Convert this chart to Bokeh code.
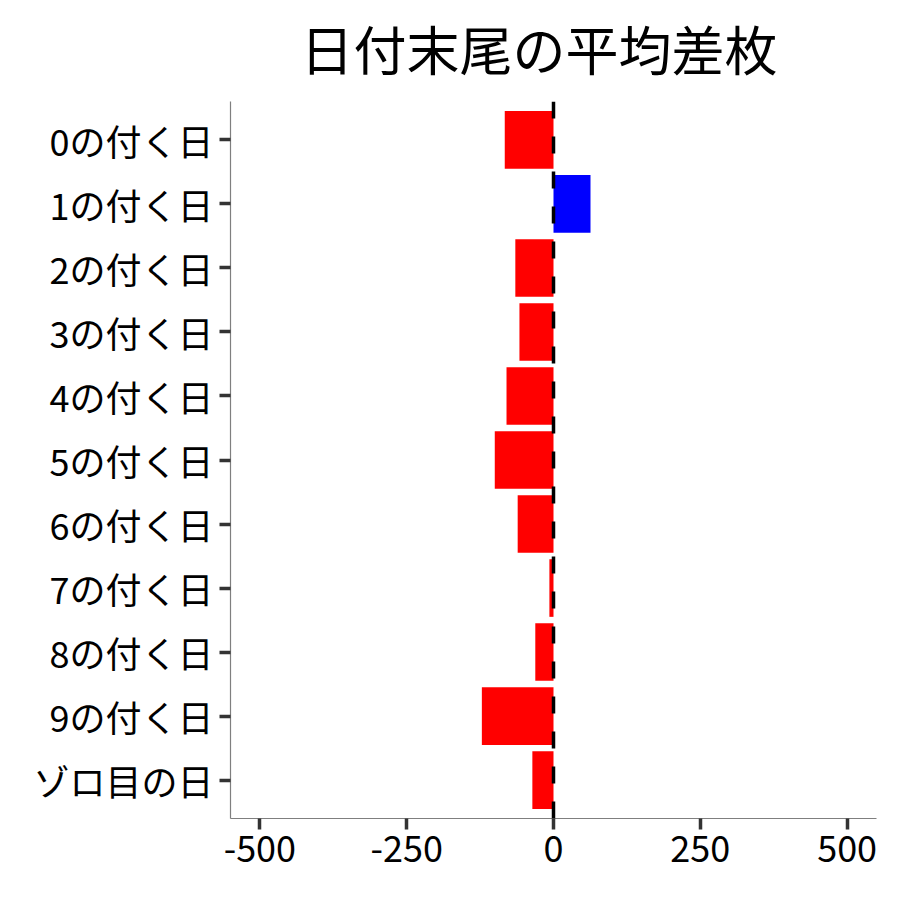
from bokeh.plotting import figure
from bokeh.models import FactorRange, Range1d, Span, ColumnDataSource, FixedTicker
from bokeh.embed import file_html
from bokeh.resources import INLINE

categories = ["0の付く日", "1の付く日", "2の付く日", "3の付く日", "4の付く日",
              "5の付く日", "6の付く日", "7の付く日", "8の付く日", "9の付く日", "ゾロ目の日"]
values = [-83, 63, -65, -58, -80, -100, -61, -7, -31, -122, -36]
x_ticks = [-500, -250, 0, 250, 500]
x_tick_labels = ["-500", "-250", "0", "250", "500"]
title_text = "日付末尾の平均差枚"

colors = ["#0000FF" if v > 0 else "#FF0000" for v in values]
source = ColumnDataSource(dict(cat=categories, val=values, color=colors))

FONT = "Noto Sans CJK JP"

p = figure(width=884, height=884, output_backend="svg", toolbar_location=None,
           y_range=FactorRange(factors=list(reversed(categories)), range_padding=0.1,
                               range_padding_units="absolute"),
           x_range=Range1d(-550, 550),
           min_border_left=230, min_border_right=8, min_border_top=101, min_border_bottom=66)

p.hbar(y="cat", right="val", left=0, height=0.9, color="color", line_color=None, source=source)

p.add_layout(Span(location=0, dimension="height", line_color="black", line_width=3.5,
                  line_dash="17 18"))

p.title.text = title_text
p.title.text_font = "Liberation Sans, Noto Sans CJK JP"
p.title.text_font_size = "53px"
p.title.text_font_style = "normal"
p.title.align = "left"
p.title.offset = 70
p.title.text_color = "black"
p.title.standoff = 40

p.outline_line_color = None
p.xgrid.grid_line_color = None
p.ygrid.grid_line_color = None

for ax in (p.xaxis[0], p.yaxis[0]):
    ax.axis_line_color = "#7f7f7f"
    ax.axis_line_width = 1.2
    ax.major_tick_line_color = "#333333"
    ax.major_tick_line_width = 3.5
    ax.major_tick_out = 11
    ax.major_tick_in = 0
    ax.minor_tick_line_color = None
    ax.major_label_text_font = FONT
    ax.major_label_text_font_size = "36px"
    ax.major_label_text_color = "black"

p.xaxis[0].ticker = FixedTicker(ticks=x_ticks)
p.xaxis[0].major_label_overrides = dict(zip(x_ticks, x_tick_labels))
p.xaxis[0].major_label_standoff = 6
p.yaxis[0].major_label_standoff = 6

open("out.html", "w").write(file_html(p, INLINE))
